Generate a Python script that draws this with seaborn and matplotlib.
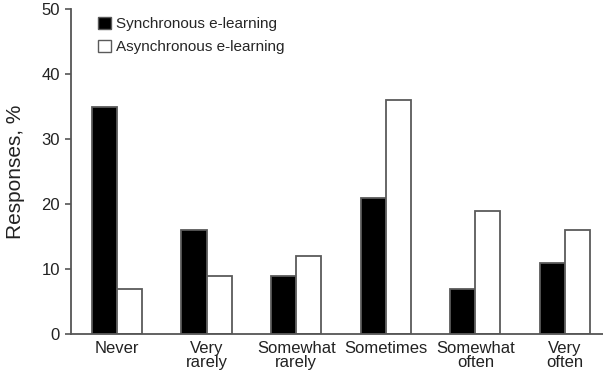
import pandas as pd
import numpy as np
import matplotlib
matplotlib.use('Agg')
import matplotlib.pyplot as plt
import seaborn as sns

# 数据
categories = ['Never', 'Very\nrarely', 'Somewhat\nrarely', 'Sometimes', 'Somewhat\noften', 'Very\noften']
synchronous = [35, 16, 9, 21, 7, 11]
asynchronous = [7, 9, 12, 36, 19, 16]
series_names = ['Synchronous e-learning', 'Asynchronous e-learning']

df = pd.DataFrame({
    'freq': categories * 2,
    'pct': synchronous + asynchronous,
    'mode': [series_names[0]] * len(categories) + [series_names[1]] * len(categories),
})

sns.set_style('white')
plt.rcParams['font.family'] = ['Liberation Sans', 'DejaVu Sans']

fig = plt.figure(figsize=(6.03, 3.82), dpi=100)
ax = fig.add_axes([71 / 603, 48 / 382, (603 - 71) / 603, (334 - 9) / 382])

sns.barplot(data=df, x='freq', y='pct', hue='mode', palette=['black', 'white'],
            width=0.56, edgecolor='#5a5a5a', linewidth=1.3, ax=ax)

ax.set_xlim(-0.513, 5.424)
ax.set_ylim(0, 50)
ax.set_yticks([0, 10, 20, 30, 40, 50])
ax.set_xlabel('')
ax.set_ylabel('Responses, %', fontsize=15, color='#222222', labelpad=12)

for side in ['top', 'right']:
    ax.spines[side].set_visible(False)
for side in ['left', 'bottom']:
    ax.spines[side].set_color('#555555')
    ax.spines[side].set_linewidth(1.3)

ax.tick_params(axis='y', which='both', left=True, length=4, width=1.2, color='#555555',
               labelsize=12, labelcolor='#222222', pad=4)
ax.tick_params(axis='x', which='both', bottom=False, length=0,
               labelsize=12, labelcolor='#222222', pad=5)
for lbl in ax.get_xticklabels():
    lbl.set_linespacing(0.95)

leg = ax.legend(loc='upper left', bbox_to_anchor=(0.04, 0.995), frameon=False,
                fontsize=11, handlelength=0.85, handleheight=0.85,
                handletextpad=0.3, labelspacing=0.55, borderaxespad=0)
for h in leg.legend_handles:
    h.set_edgecolor('#5a5a5a')
    h.set_linewidth(1.0)

fig.savefig('out.png', dpi=100)
